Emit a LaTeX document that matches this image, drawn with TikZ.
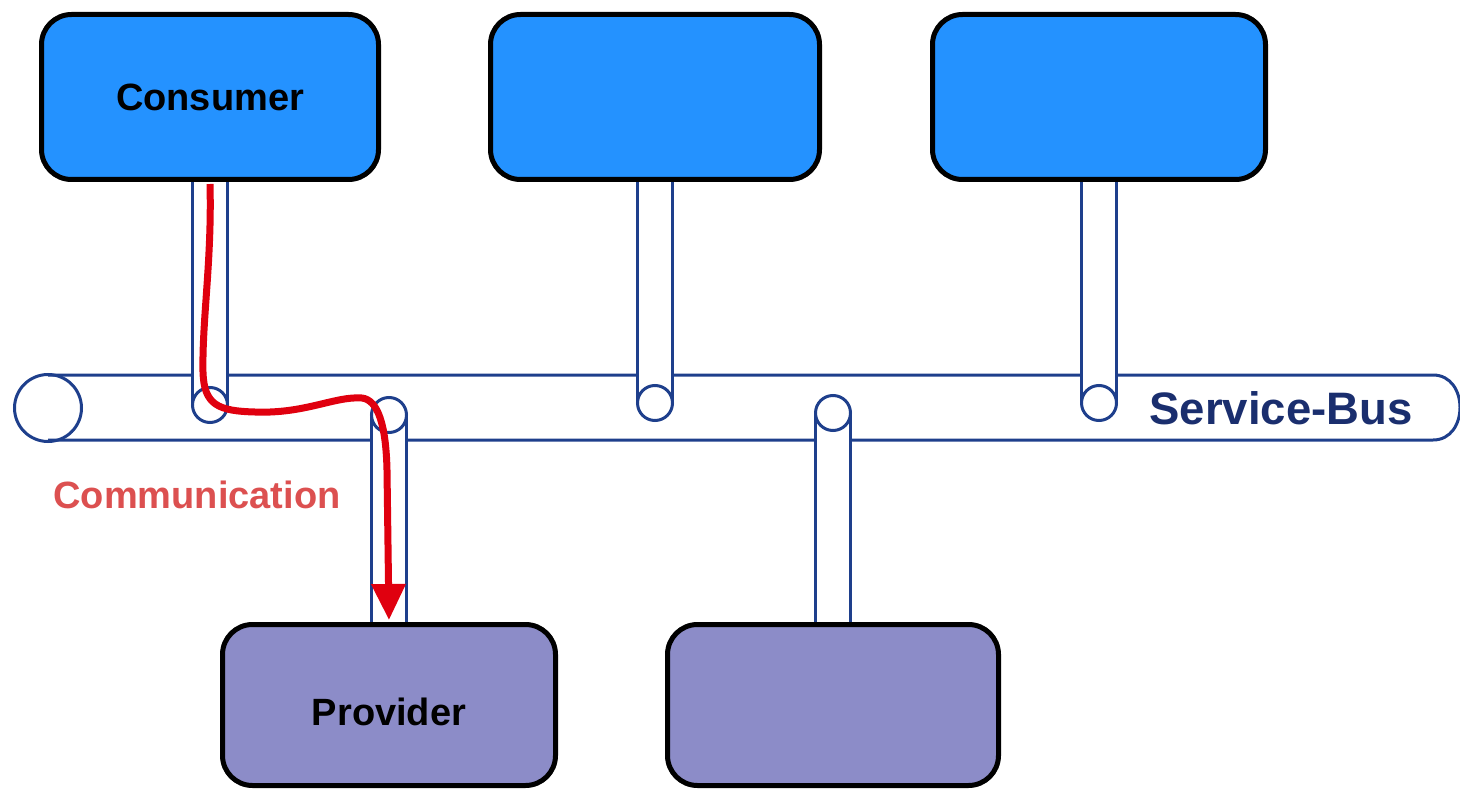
\documentclass[tikz,border=0pt]{standalone}
\usepackage{fontspec}
\setmainfont{Liberation Sans}
\usetikzlibrary{arrows.meta}
\definecolor{busblue}{HTML}{1E3F8C}
\definecolor{consfill}{HTML}{2492FF}
\definecolor{provfill}{HTML}{8C8CC8}
\definecolor{flowred}{HTML}{E0000F}
\definecolor{commred}{HTML}{DC5050}
\definecolor{busnavy}{HTML}{1A2E6E}
\pgfdeclarelayer{bg}
\pgfsetlayers{bg,main}
\tikzset{
  svc/.style={draw=black, line width=5pt, rounded corners=30pt, minimum height=161pt,
    inner sep=0pt, font=\bfseries\fontsize{38}{40}\selectfont},
  consumerbox/.style={svc, fill=consfill},
  providerbox/.style={svc, fill=provfill},
  buswire/.style={draw=busblue, line width=3pt},
  flow/.style={draw=flowred, line width=7pt, -{Triangle[width=33pt,length=36pt]}},
}
\begin{document}
\begin{tikzpicture}[x=1pt,y=-1pt]
\useasboundingbox (0,0) rectangle (1460,789);
% service boxes
\node[consumerbox, minimum width=337pt, minimum height=165pt] (cons) at (210,97) {Consumer};
\node[consumerbox, minimum width=329pt, minimum height=165pt] (svcB) at (655,97) {};
\node[consumerbox, minimum width=333pt, minimum height=165pt] (svcC) at (1099,97) {};
\node[providerbox, minimum width=333pt, text height=40pt, text depth=0pt] (prov) at (389,705) {Provider};
\node[providerbox, minimum width=331pt] (svcE) at (833,705) {};
% junctions on the bus
\coordinate (jA) at (210,405);
\coordinate (jB) at (655,403);
\coordinate (jC) at (1099,403);
\coordinate (jP) at (389,415);
\coordinate (jE) at (833,413);
\begin{pgfonlayer}{bg}
  % bus
  \node[draw=busblue, line width=3pt, circle, minimum size=67pt, inner sep=0pt] (busend) at (48,408) {};
  \coordinate (busL1) at (48,375);
  \coordinate (busL2) at (48,440);
  \coordinate (busR1) at (1433,375);
  \coordinate (busR2) at (1433,440);
  \draw[buswire] (busL1) -- (busR1) .. controls (1469,375) and (1469,440) .. (busR2) -- (busL2);
  % pipes from top boxes
  \foreach \b/\j in {cons/jA, svcB/jB, svcC/jC}{
    \fill[white] ([xshift=-17.5pt]\j |- \b.south) rectangle ([xshift=17.5pt]\j);
    \draw[buswire] ([xshift=-17.5pt]\j |- \b.south) -- ([xshift=-17.5pt]\j);
    \draw[buswire] ([xshift=17.5pt]\j |- \b.south) -- ([xshift=17.5pt]\j);
    \draw[buswire, fill=white] (\j) circle[radius=17.5pt];
  }
  % pipes to bottom boxes
  \foreach \b/\j in {prov/jP, svcE/jE}{
    \fill[white] ([xshift=-17.5pt]\j) rectangle ([xshift=17.5pt]\j |- \b.north);
    \draw[buswire] ([xshift=-17.5pt]\j) -- ([xshift=-17.5pt]\j |- \b.north);
    \draw[buswire] ([xshift=17.5pt]\j) -- ([xshift=17.5pt]\j |- \b.north);
    \draw[buswire, fill=white] (\j) circle[radius=17.5pt];
  }
\end{pgfonlayer}
% labels
\node[text=busnavy, font=\bfseries\fontsize{45.5}{48}\selectfont] (buslbl) at (1281,408) {Service-Bus};
\node[text=commred, font=\bfseries\fontsize{38}{40}\selectfont] (commlbl) at (197,495) {Communication};
% communication path
\draw[flow] ([yshift=-2pt]cons.south) .. controls (212,260) and (202,320) .. (203,372)
  .. controls (204,405) and (218,411) .. (255,412)
  .. controls (305,414) and (335,396) .. (362,398)
  .. controls (378,400) and (386,425) .. (387,470) -- ([yshift=2pt]prov.north);
\end{tikzpicture}
\end{document}
